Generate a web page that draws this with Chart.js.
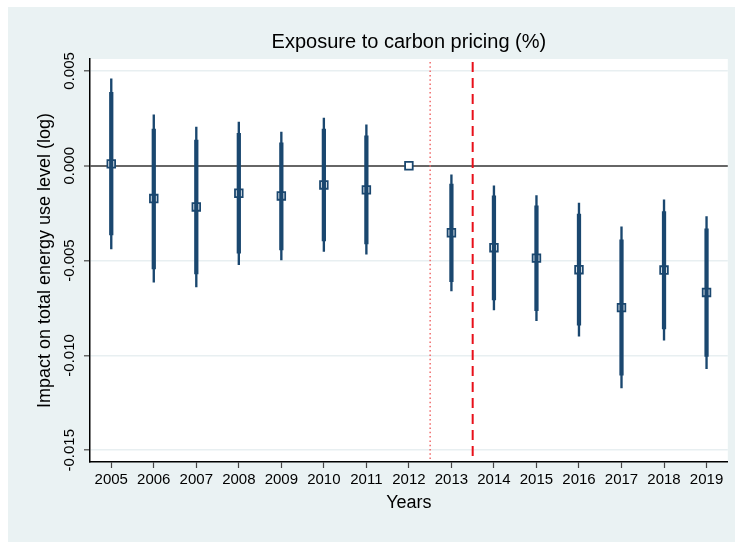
<!DOCTYPE html>
<html>
<head>
<meta charset="utf-8">
<script src="https://cdn.jsdelivr.net/npm/chart.js@4/dist/chart.umd.min.js"></script>
<style>
  html, body { margin: 0; padding: 0; background: #ffffff; }
  canvas { display: block; }
</style>
</head>
<body>
<canvas id="chart" width="735" height="542"></canvas>
<script>
// Event-study estimates: impact of exposure to carbon pricing on total energy use (log)
const years = ['2005', '2006', '2007', '2008', '2009', '2010', '2011', '2012',
               '2013', '2014', '2015', '2016', '2017', '2018', '2019'];

// Point estimates (2012 is the reference year)
const coef = [0.0001, -0.00173, -0.00217, -0.00145, -0.00159, -0.00101, -0.00127, 0,
              -0.00353, -0.00432, -0.00487, -0.00548, -0.00748, -0.00550, -0.00668];

// 90% confidence interval
const ci90Lo = [-0.00364, -0.00544, -0.00570, -0.00461, -0.00444, -0.00396, -0.00412, null,
                -0.00611, -0.00708, -0.00764, -0.00841, -0.01104, -0.00860, -0.01005];
const ci90Hi = [0.00387, 0.00194, 0.00136, 0.00171, 0.00121, 0.00194, 0.00158, null,
                -0.00097, -0.00158, -0.00211, -0.00255, -0.00391, -0.00241, -0.00333];

// 95% confidence interval
const ci95Lo = [-0.00438, -0.00614, -0.00639, -0.00521, -0.00496, -0.00452, -0.00466, null,
                -0.00660, -0.00760, -0.00817, -0.00898, -0.01172, -0.00919, -0.01070];
const ci95Hi = [0.00459, 0.00268, 0.00204, 0.00231, 0.00178, 0.00252, 0.00216, null,
                -0.00048, -0.00106, -0.00157, -0.00197, -0.00322, -0.00180, -0.00268];

// Y-axis tick values
const yTicks = [-0.015, -0.010, -0.005, 0.000, 0.005];

// Vertical reference lines drawn between two years
const refLines = [
  { after: '2012', color: '#f06a6a', width: 1.5, dash: [1.5, 2.8] },
  { after: '2013', color: '#e8101a', width: 2, dash: [10, 6] }
];

const NAVY = '#1a476f';
const FONT = '"Liberation Sans", Arial, sans-serif';

const toRange = (lo, hi) => lo.map((v, i) => (v === null ? null : [v, hi[i]]));

const backgroundPlugin = {
  id: 'panelBackground',
  beforeDraw(chart) {
    const { ctx, chartArea } = chart;
    ctx.save();
    ctx.fillStyle = '#eaf2f3';
    ctx.fillRect(8, 7, chart.width - 8, chart.height - 7);
    ctx.fillStyle = '#ffffff';
    ctx.fillRect(chartArea.left, chartArea.top, chartArea.right - chartArea.left, chartArea.bottom - chartArea.top);
    ctx.restore();
  }
};

const refLinePlugin = {
  id: 'refLines',
  beforeDatasetsDraw(chart) {
    const { ctx, chartArea } = chart;
    const x = chart.scales.x;
    ctx.save();
    refLines.forEach(l => {
      const i = years.indexOf(l.after);
      const px = (x.getPixelForValue(i) + x.getPixelForValue(i + 1)) / 2;
      ctx.strokeStyle = l.color;
      ctx.lineWidth = l.width;
      ctx.setLineDash(l.dash);
      ctx.beginPath();
      ctx.moveTo(px, chartArea.top + 3);
      ctx.lineTo(px, chartArea.bottom);
      ctx.stroke();
    });
    ctx.restore();
  }
};

// Rotated y tick labels (read bottom to top)
const yLabelPlugin = {
  id: 'yTickLabels',
  afterDraw(chart) {
    const { ctx } = chart;
    const y = chart.scales.y;
    ctx.save();
    ctx.fillStyle = '#000000';
    ctx.font = '15px ' + FONT;
    ctx.textAlign = 'center';
    ctx.textBaseline = 'middle';
    yTicks.forEach(v => {
      ctx.save();
      ctx.translate(y.right - 20, y.getPixelForValue(v));
      ctx.rotate(-Math.PI / 2);
      ctx.fillText(v.toFixed(3), 0, 0);
      ctx.restore();
    });
    ctx.restore();
  }
};

new Chart(document.getElementById('chart'), {
  type: 'bar',
  data: {
    labels: years,
    datasets: [
      {
        label: '95% CI',
        data: toRange(ci95Lo, ci95Hi),
        backgroundColor: NAVY,
        barThickness: 1.7,
        grouped: false,
        order: 1
      },
      {
        label: '90% CI',
        data: toRange(ci90Lo, ci90Hi),
        backgroundColor: NAVY,
        barThickness: 3.6,
        grouped: false,
        order: 0
      },
      {
        type: 'line',
        label: 'Estimate',
        data: coef,
        showLine: false,
        pointStyle: 'rect',
        pointRadius: 5.4,
        pointBorderWidth: 1.8,
        pointBorderColor: NAVY,
        pointBackgroundColor: '#ffffff',
        order: 2
      }
    ]
  },
  options: {
    responsive: false,
    animation: false,
    events: [],
    layout: { padding: { left: 0, right: 6, top: 0, bottom: 0 } },
    plugins: {
      legend: { display: false },
      tooltip: { enabled: false },
      title: {
        display: true,
        fullSize: false,
        text: 'Exposure to carbon pricing (%)',
        color: '#000000',
        font: { family: FONT, size: 20, weight: 'normal', lineHeight: 1.2 },
        padding: { top: 30, bottom: 5 }
      }
    },
    scales: {
      x: {
        type: 'category',
        offset: true,
        grid: {
          display: true,
          offset: false,
          drawOnChartArea: false,
          drawTicks: true,
          tickLength: 6,
          tickColor: '#444444',
          tickWidth: 1.2
        },
        border: { display: true, color: '#000000', width: 1.5 },
        ticks: {
          color: '#000000',
          font: { family: FONT, size: 15 },
          padding: 3,
          maxRotation: 0,
          autoSkip: false
        },
        title: {
          display: true,
          text: 'Years',
          color: '#000000',
          font: { family: FONT, size: 18, lineHeight: 1.2 },
          padding: { top: 0, bottom: 28 }
        },
        afterFit(scale) { scale.height = 80; }
      },
      y: {
        type: 'linear',
        min: -0.01562,
        max: 0.00563,
        afterBuildTicks(scale) { scale.ticks = yTicks.map(v => ({ value: v })); },
        grid: {
          color: ctx => (ctx.tick && ctx.tick.value === 0 ? '#666666' : '#e8eff1'),
          lineWidth: ctx => (ctx.tick && ctx.tick.value === 0 ? 2 : 1.6),
          drawTicks: true,
          tickLength: 6,
          tickColor: '#444444',
          tickWidth: 1.2
        },
        border: { display: true, color: '#000000', width: 1.5 },
        ticks: { display: false },
        title: {
          display: true,
          text: 'Impact on total energy use level (log)',
          color: '#000000',
          font: { family: FONT, size: 18, lineHeight: 1.2 },
          padding: { top: 34, bottom: 0 }
        },
        afterFit(scale) { scale.width = 90; }
      }
    }
  },
  plugins: [backgroundPlugin, refLinePlugin, yLabelPlugin]
});
</script>
</body>
</html>
